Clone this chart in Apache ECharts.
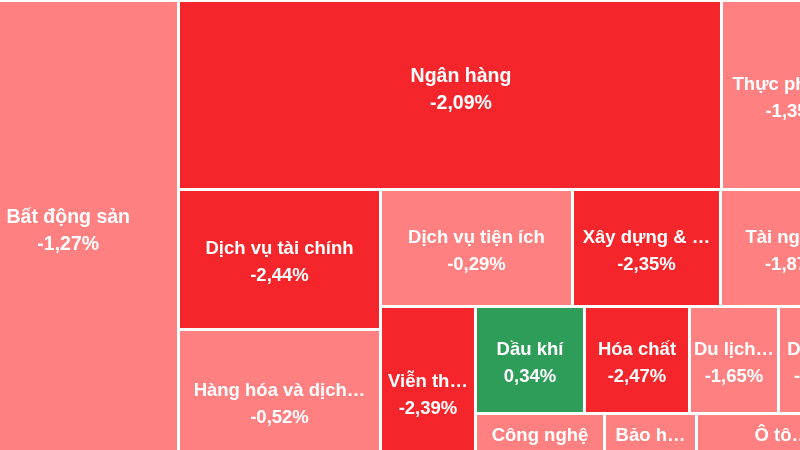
<!DOCTYPE html>
<html>
<head>
<meta charset="utf-8">
<script src="https://cdn.jsdelivr.net/npm/echarts@6/dist/echarts.min.js"></script>
<style>
  html, body { margin: 0; padding: 0; background: #ffffff; }
  #chart { width: 800px; height: 450px; }
</style>
</head>
<body>
<div id="chart"></div>
<script>
// ---- data ----
// sector names as they are displayed (truncated like in the reference)
const sectorNames = [
  'Bất động sản', 'Ngân hàng', 'Thực phẩm …', 'Dịch vụ tài chính',
  'Hàng hóa và dịch…', 'Dịch vụ tiện ích', 'Xây dựng & …', 'Tài nguyên',
  'Viễn th…', 'Dầu khí', 'Hóa chất', 'Du lịch…', 'Dệt may',
  'Công nghệ', 'Bảo h…', 'Ô tô…'
];
// relative size of each sector (estimated from the tile areas)
const sectorWeights = [
  1054.0, 1026.3, 276.9, 282.8,
  301.0, 224.6, 173.2, 172.6,
  163.4, 116.6, 112.4, 95.2, 95.8,
  83.9, 59.8, 111.5
];
// daily change in percent
const sectorChanges = [
  -1.27, -2.09, -1.35, -2.44,
  -0.52, -0.29, -2.35, -1.87,
  -2.39, 0.34, -2.47, -1.65, -1.21,
  -0.86, -1.12, -1.43
];

// ---- grouping of the sectors (indices), in the order of the reference ----
// 'break' marks a zero-size row break for ECharts' squarified layout.
const BRK = 'break';
const grouping = [
  0, BRK,
  [
    [1, 2],
    [
      [3, BRK, 4], BRK,
      [
        [5, BRK, 6, 7],
        [8, BRK, [[9, BRK, 10, 11, BRK, 12], [13, 14, 15]]]
      ]
    ]
  ]
];

// label style tweaks (bigger text on the two largest tiles, as in the reference)
const labelTweaks = {
  0: { fontSize: 19.5, offset: [0, -8] },
  1: { fontSize: 19.5, offset: [11, -4.5] },
  4: { offset: [0, 0] }
};

function colorFor(c) {
  if (c > 0) return '#2E9D5A';
  if (c <= -2) return '#F4262C';
  return '#FF8080';
}
function fmt(c) {
  return c.toFixed(2).replace('.', ',') + '%';
}
function build(n) {
  if (n === BRK) {
    return {
      name: '', value: [1e-7, 0],
      label: { show: false },
      itemStyle: { borderWidth: 0, color: 'rgba(0,0,0,0)' }
    };
  }
  if (Array.isArray(n)) {
    return { name: '', children: n.map(build) };
  }
  const item = {
    name: sectorNames[n],
    value: [sectorWeights[n], sectorChanges[n]],
    itemStyle: { color: colorFor(sectorChanges[n]), borderColor: '#ffffff', borderWidth: 1.5 }
  };
  if (labelTweaks[n]) item.label = labelTweaks[n];
  return item;
}

const chart = echarts.init(document.getElementById('chart'), null, { renderer: 'canvas' });
chart.setOption({
  animation: false,
  backgroundColor: '#ffffff',
  series: [{
    type: 'treemap',
    left: -42, top: 0.5, width: 910, height: 478,
    squareRatio: 3.2,
    sort: false,
    roam: false,
    nodeClick: false,
    breadcrumb: { show: false },
    itemStyle: { borderWidth: 0, gapWidth: 0, borderColor: '#ffffff' },
    upperLabel: { show: false },
    label: {
      show: true,
      position: 'inside',
      color: '#ffffff',
      fontFamily: '"Liberation Sans", Arial, sans-serif',
      fontWeight: 'bold',
      fontSize: 18.5,
      lineHeight: 27,
      padding: [0, 4],
      offset: [0, 3],
      overflow: 'none',
      formatter: function (p) {
        return p.name + '\n' + fmt(p.value[1]);
      }
    },
    emphasis: { disabled: true },
    data: grouping.map(build)
  }]
});
</script>
</body>
</html>
